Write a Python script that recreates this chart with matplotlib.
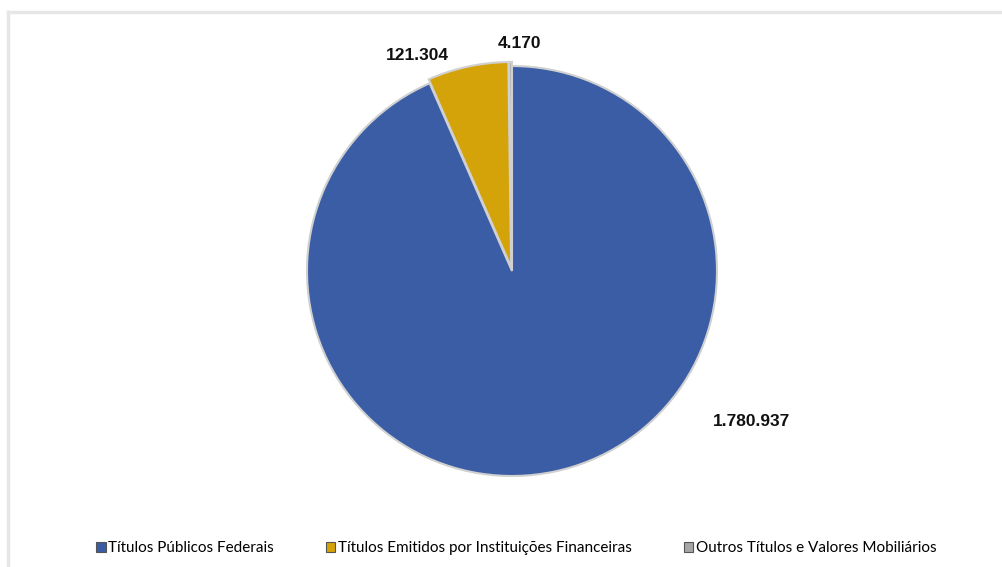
import matplotlib
matplotlib.use("Agg")
import matplotlib.pyplot as plt
from matplotlib.lines import Line2D
from matplotlib.patches import Patch

categories = ["Títulos Públicos Federais",
              "Títulos Emitidos por Instituições Financeiras",
              "Outros Títulos e Valores Mobiliários"]
values = [1780937, 121304, 4170]
value_labels = ["1.780.937", "121.304", "4.170"]
colors = ["#3A5DA5", "#D4A209", "#A6A6A6"]

fig = plt.figure(figsize=(10.02, 5.67), dpi=100)
fig.patch.set_facecolor("white")

# light frame (top and left)
fig.add_artist(Line2D([8/1002, 1.0], [1 - 12/567, 1 - 12/567], transform=fig.transFigure,
                      color="#e6e6e6", lw=2.5))
fig.add_artist(Line2D([8/1002, 8/1002], [0, 1 - 12/567], transform=fig.transFigure,
                      color="#e6e6e6", lw=2.5))

ax = fig.add_axes([307/1002, 91/567, 410/1002, 410/567])
wedges, _ = ax.pie(values, colors=colors, startangle=90, counterclock=False,
                   explode=[0, 0.02, 0.02], radius=1.0,
                   wedgeprops=dict(edgecolor="#d0d0d0", linewidth=1.5))
ax.set_xlim(-1, 1)
ax.set_ylim(-1, 1)
ax.set_aspect("equal")
ax.axis("off")

label_pos = [(1.166, -0.732), (-0.463, 1.049), (0.039, 1.111)]
for (x, y), t in zip(label_pos, value_labels):
    ax.text(x, y, t, ha="center", va="center", fontsize=12.5, fontweight="bold",
            family="Liberation Sans", color="#111111", clip_on=False)

handles = [Patch(facecolor=c, edgecolor="#555555", linewidth=0.8) for c in colors]
fig.legend(handles, categories, loc="center", bbox_to_anchor=(516/1002, 1 - 548/567),
           ncol=3, frameon=False, handlelength=0.65, handleheight=0.65,
           handletextpad=0.15, columnspacing=3.4, prop={"family": "Lato", "size": 11})

fig.savefig("out.png", dpi=100)
